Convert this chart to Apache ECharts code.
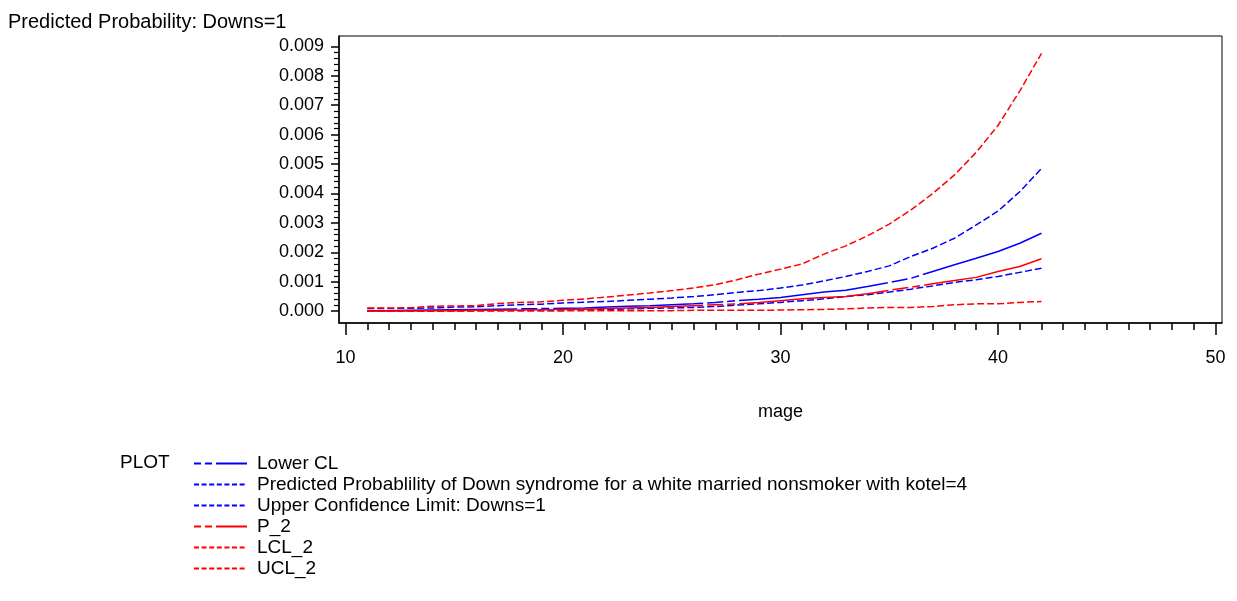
<!DOCTYPE html>
<html>
<head>
<meta charset="utf-8">
<script src="https://cdn.jsdelivr.net/npm/echarts@6/dist/echarts.min.js"></script>
<style>
  html, body { margin: 0; padding: 0; background: #fff; }
  #chart { width: 1237px; height: 601px; }
</style>
</head>
<body>
<div id="chart"></div>
<script>
// mage (x values)
var ages = [11,12,13,14,15,16,17,18,19,20,21,22,23,24,25,26,27,28,29,30,31,32,33,34,35,36,37,38,39,40,41,42];

// blue set
var lowerCL = [0.00002,0.00002,0.00003,0.00004,0.00005,0.00006,0.00007,0.00008,0.00009,0.00010,0.00011,0.00014,0.00017,0.00019,0.00022,0.00025,
  0.00030,0.00036,0.00041,0.00047,0.00056,0.00065,0.00071,0.00084,0.00098,0.00112,0.00135,0.00158,0.00180,0.00203,0.00231,0.00265];
var predProb = [0.00001,0.00001,0.00001,0.00002,0.00002,0.00002,0.00003,0.00003,0.00004,0.00004,0.00005,0.00006,0.00008,0.00010,0.00011,0.00013,
  0.00016,0.00021,0.00025,0.00030,0.00036,0.00042,0.00050,0.00056,0.00065,0.00075,0.00086,0.00098,0.00107,0.00118,0.00132,0.00146];
var upperCL = [0.00009,0.00009,0.00010,0.00011,0.00014,0.00015,0.00019,0.00022,0.00024,0.00028,0.00031,0.00033,0.00037,0.00041,0.00045,0.00050,
  0.00056,0.00064,0.00070,0.00079,0.00089,0.00103,0.00118,0.00135,0.00154,0.00186,0.00214,0.00248,0.00293,0.00340,0.00406,0.00485];

// red set
var p2 = [0.00001,0.00001,0.00001,0.00002,0.00002,0.00003,0.00003,0.00004,0.00005,0.00006,0.00007,0.00009,0.00011,0.00013,0.00016,0.00019,
  0.00022,0.00025,0.00030,0.00036,0.00042,0.00047,0.00050,0.00059,0.00071,0.00082,0.00093,0.00104,0.00115,0.00135,0.00152,0.00178];
var lcl2 = [0.00000,0.00000,0.00000,0.00000,0.00001,0.00001,0.00001,0.00001,0.00001,0.00001,0.00002,0.00002,0.00002,0.00002,0.00002,0.00003,
  0.00003,0.00003,0.00003,0.00004,0.00005,0.00006,0.00008,0.00011,0.00013,0.00013,0.00016,0.00022,0.00025,0.00025,0.00030,0.00033];
var ucl2 = [0.00011,0.00011,0.00012,0.00017,0.00018,0.00019,0.00026,0.00030,0.00032,0.00037,0.00042,0.00048,0.00055,0.00062,0.00070,0.00079,
  0.00090,0.00107,0.00126,0.00143,0.00161,0.00194,0.00222,0.00256,0.00296,0.00344,0.00400,0.00463,0.00540,0.00631,0.00748,0.00876];

var yTicks = [0,0.001,0.002,0.003,0.004,0.005,0.006,0.007,0.008,0.009];
var xTicks = [10,20,30,40,50];

var names = ['Lower CL',
  'Predicted Probablility of Down syndrome for a white married nonsmoker with kotel=4',
  'Upper Confidence Limit: Downs=1', 'P_2', 'LCL_2', 'UCL_2'];

var yMinor = [];
for (var i = 0; i <= 45; i++) { if (i % 5 != 0) yMinor.push(i * 0.0002); }
var xMinor = [];
for (var a = 11; a < 50; a++) { if (a % 10 != 0) xMinor.push(a); }

function pairs(vals) {
  return ages.map(function (x, i) { return [x, vals[i]]; });
}

var mixDash = [150, 4, 16, 4, 8, 4];
var shortDash = [7, 3];
var mixLegend = [7, 4, 7, 4, 31, 10];
var shortLegend = [5, 2.6];

function line(name, vals, color, dash) {
  return {
    name: name, type: 'line', data: pairs(vals), symbol: 'none',
    lineStyle: { color: color, width: 1.5, type: dash },
    itemStyle: { color: color }
  };
}

var chart = echarts.init(document.getElementById('chart'));
var font = 'Liberation Sans, Arial, sans-serif';

chart.setOption({
  animation: false,
  title: [
    { text: 'Predicted Probability: Downs=1', left: 3, top: 7,
      textStyle: { fontFamily: font, fontSize: 20, fontWeight: 'normal', color: '#000' } },
    { text: 'PLOT', left: 115, top: 448,
      textStyle: { fontFamily: font, fontSize: 19, fontWeight: 'normal', color: '#000' } }
  ],
  legend: {
    orient: 'vertical', left: 188, top: 449,
    itemWidth: 53, itemHeight: 12, itemGap: 2,
    itemStyle: { opacity: 0 },
    textStyle: { fontFamily: font, fontSize: 19, lineHeight: 17, color: '#000', padding: [0, 0, 0, 5] },
    data: [
      { name: names[0], lineStyle: { type: mixLegend } },
      { name: names[1], lineStyle: { type: shortLegend } },
      { name: names[2], lineStyle: { type: shortLegend } },
      { name: names[3], lineStyle: { type: mixLegend } },
      { name: names[4], lineStyle: { type: shortLegend } },
      { name: names[5], lineStyle: { type: shortLegend } }
    ]
  },
  grid: { left: 339, right: 15, top: 36, bottom: 278, show: true, borderColor: '#000', borderWidth: 1 },
  xAxis: [
    { type: 'value', min: 9.7, max: 50.3, name: 'mage', nameLocation: 'middle', nameGap: 80,
      nameTextStyle: { fontFamily: font, fontSize: 18, color: '#000' },
      axisLine: { onZero: false, lineStyle: { color: '#000', width: 1.5 } },
      axisTick: { customValues: xTicks, length: 12, lineStyle: { color: '#000', width: 1.5 } },
      axisLabel: { customValues: xTicks, margin: 26, fontFamily: font, fontSize: 18, color: '#000' },
      splitLine: { show: false } },
    { type: 'value', min: 9.7, max: 50.3, position: 'bottom',
      axisLine: { show: false, onZero: false },
      axisTick: { customValues: xMinor, length: 7, lineStyle: { color: '#000', width: 1.5 } },
      axisLabel: { show: false }, splitLine: { show: false } }
  ],
  yAxis: [
    { type: 'value', min: -0.0004, max: 0.00935,
      axisLine: { show: true, onZero: false, lineStyle: { color: '#000', width: 1.5 } },
      axisTick: { show: true, customValues: yTicks, length: 8, lineStyle: { color: '#000', width: 1.5 } },
      axisLabel: { customValues: yTicks, margin: 15, fontFamily: font, fontSize: 18, color: '#000',
        formatter: function (v) { return v.toFixed(3); } },
      splitLine: { show: false } },
    { type: 'value', min: -0.0004, max: 0.00935, position: 'left',
      axisLine: { show: false, onZero: false },
      axisTick: { show: true, customValues: yMinor, length: 5, lineStyle: { color: '#000', width: 1.2 } },
      axisLabel: { show: false }, splitLine: { show: false } }
  ],
  series: [
    line(names[0], lowerCL, '#0000ff', mixDash),
    line(names[1], predProb, '#0000ff', shortDash),
    line(names[2], upperCL, '#0000ff', shortDash),
    line(names[3], p2, '#ff0000', mixDash),
    line(names[4], lcl2, '#ff0000', shortDash),
    line(names[5], ucl2, '#ff0000', shortDash)
  ]
});
</script>
</body>
</html>
